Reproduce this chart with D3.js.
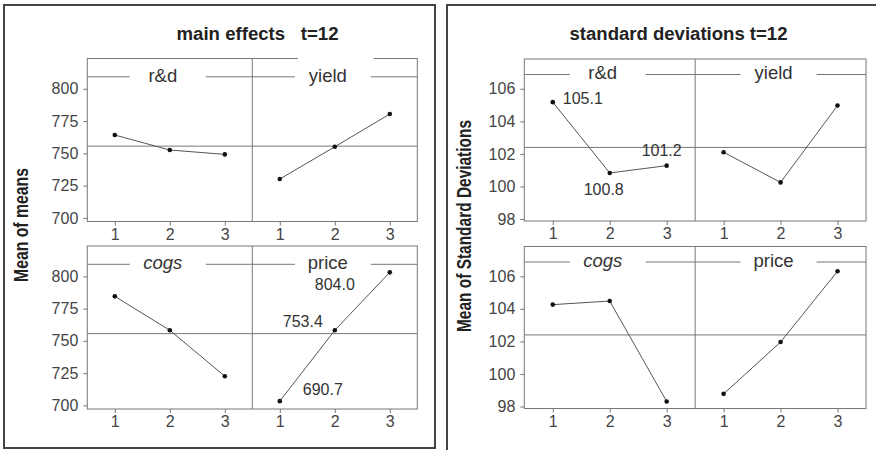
<!DOCTYPE html>
<html>
<head>
<meta charset="utf-8">
<script src="https://cdn.jsdelivr.net/npm/d3@7"></script>
<style>
    body { margin: 0; background: #fff; }
    svg { display: block; font-family: "Liberation Sans", Arial, sans-serif; }
</style>
</head>
<body>
<svg id="chart" width="876" height="450"></svg>
<script>
const levels = [1, 2, 3];
const factors = ["r&d", "yield", "cogs", "price"];

// main effects t=12 (mean of means)
const meanRd = [764.2, 752.6, 749.2];
const meanYield = [730.1, 755.1, 780.5];
const meanCogs = [784.5, 758.2, 722.6];
const meanPrice = [703.3, 758.2, 803.1];
const meanGrand = 755.6;
const meanTicks = [700, 725, 750, 775, 800];

// standard deviations t=12
const sdRd = [105.18, 100.83, 101.28];
const sdYield = [102.1, 100.25, 104.97];
const sdCogs = [104.26, 104.48, 98.31];
const sdPrice = [98.78, 101.96, 106.31];
const sdGrand = 102.4;
const sdTicks = [98, 100, 102, 104, 106];

// printed values next to some points
const priceLabels = ["690.7", "753.4", "804.0"];
const sdRdLabels = ["105.1", "100.8", "101.2"];

const svg = d3.select("#chart");

// outer frames
svg.append("rect")
    .attr("x", 4).attr("y", 5).attr("width", 431).attr("height", 443)
    .attr("fill", "none").attr("stroke", "#444").attr("stroke-width", 2);
svg.append("path")
    .attr("d", "M447,452V5H878")
    .attr("fill", "none").attr("stroke", "#444").attr("stroke-width", 2);

function drawBlock(o) {
    const g = svg.append("g");

    g.append("text")
        .attr("x", o.titleX).attr("y", 40)
        .attr("text-anchor", "middle")
        .attr("font-size", 18).attr("font-weight", "bold")
        .attr("fill", "#222")
        .style("white-space", "pre")
        .attr("textLength", o.titleLen).attr("lengthAdjust", "spacingAndGlyphs")
        .text(o.title);

    g.append("text")
        .attr("transform", `translate(${o.yTitleX},${o.yTitleY}) rotate(-90)`)
        .attr("text-anchor", "middle")
        .attr("dominant-baseline", "middle")
        .attr("font-size", 21).attr("font-weight", "bold")
        .attr("fill", "#222")
        .attr("textLength", o.yTitleLen).attr("lengthAdjust", "spacingAndGlyphs")
        .text(o.yTitle);

    const half = (o.x1 - o.x0) / 2;

    o.rows.forEach((row, r) => {
        const y = d3.scaleLinear().domain(o.domain).range([row[1], row[0]]);

        // reference line (grand mean)
        g.append("line")
            .attr("x1", o.x0).attr("x2", o.x1)
            .attr("y1", y(o.grand)).attr("y2", y(o.grand))
            .attr("stroke", "#777").attr("stroke-width", 1);

        const ya = g.append("g")
            .attr("transform", `translate(${o.x0},0)`)
            .call(d3.axisLeft(y).tickValues(o.ticks).tickSize(4).tickPadding(5).tickFormat(d3.format("d")));
        ya.select(".domain").remove();
        ya.selectAll("line").attr("stroke", "#777");
        ya.selectAll("text").attr("font-size", 16).attr("fill", "#444").attr("font-family", null);

        for (let c = 0; c < 2; c++) {
            const i = r * 2 + c;
            const px0 = o.x0 + c * half, px1 = px0 + half;
            const x = d3.scaleLinear().domain([0.5, 3.5]).range([px0, px1]);
            const vals = o.series[i];
            const mid = (px0 + px1) / 2;
            const sy = row[0] + o.stripOff;

            // strip line with label gap
            g.append("line")
                .attr("x1", px0).attr("x2", px1)
                .attr("y1", sy).attr("y2", sy)
                .attr("stroke", "#777");
            const gapTop = o.openTop === i ? row[0] - 2 : sy - 6;
            g.append("rect")
                .attr("x", mid - 40).attr("y", gapTop)
                .attr("width", 76).attr("height", sy + 6 - gapTop)
                .attr("fill", "#fff");
            g.append("text")
                .attr("x", mid - 7).attr("y", sy)
                .attr("text-anchor", "middle")
                .attr("dominant-baseline", "middle")
                .attr("font-size", 18.5)
                .attr("font-style", factors[i] === "cogs" ? "italic" : "normal")
                .attr("fill", "#333")
                .text(factors[i]);

            const xa = g.append("g")
                .attr("transform", `translate(0,${row[1]})`)
                .call(d3.axisBottom(x).tickValues(levels).tickSize(4).tickPadding(3).tickFormat(d3.format("d")));
            xa.select(".domain").remove();
            xa.selectAll("line").attr("stroke", "#777");
            xa.selectAll("text").attr("font-size", 16).attr("fill", "#444").attr("font-family", null);

            g.append("path")
                .datum(vals)
                .attr("fill", "none")
                .attr("stroke", "#555").attr("stroke-width", 1)
                .attr("d", d3.line().x((d, k) => x(levels[k])).y(d => y(d)));

            g.selectAll(null)
                .data(vals)
                .join("circle")
                .attr("cx", (d, k) => x(levels[k]))
                .attr("cy", d => y(d))
                .attr("r", 2.3)
                .attr("fill", "#111");

            const note = o.notes.find(n => n.panel === i);
            if (note) {
                g.selectAll(null)
                    .data(vals)
                    .join("text")
                    .attr("x", (d, k) => x(levels[k]) + note.dx[k])
                    .attr("y", (d, k) => y(d) + note.dy[k])
                    .attr("text-anchor", (d, k) => note.anchor[k])
                    .attr("dominant-baseline", "middle")
                    .attr("font-size", 16)
                    .attr("fill", "#333")
                    .text((d, k) => note.text[k]);
            }
        }

        // plot border and divider
        g.append("rect")
            .attr("x", o.x0).attr("y", row[0])
            .attr("width", o.x1 - o.x0).attr("height", row[1] - row[0])
            .attr("fill", "none").attr("stroke", "#777");
        if (o.openTop !== undefined && r === 0) {
            // label box breaks the top border above "yield"
            g.append("rect")
                .attr("x", o.x0 + half + half / 2 - 40 + 3).attr("y", row[0] - 1)
                .attr("width", 76).attr("height", 3)
                .attr("fill", "#fff");
        }
        g.append("line")
            .attr("x1", o.x0 + half).attr("x2", o.x0 + half)
            .attr("y1", row[0]).attr("y2", row[1])
            .attr("stroke", "#777");
    });
}

drawBlock({
    title: "main effects   t=12", titleX: 257.5, titleLen: 162,
    yTitle: "Mean of means", yTitleX: 22, yTitleY: 225, yTitleLen: 114,
    x0: 87.3, x1: 417.3,
    rows: [[58.5, 221.5], [246, 409]],
    domain: [697.2, 823.5],
    ticks: meanTicks,
    grand: meanGrand,
    series: [meanRd, meanYield, meanCogs, meanPrice],
    stripOff: 18.3,
    openTop: 1,
    notes: [{ panel: 3, text: priceLabels, dx: [43, -32, -55], dy: [-10, -7, 13], anchor: ["middle", "middle", "middle"] }]
});

drawBlock({
    title: "standard deviations t=12", titleX: 678.5, titleLen: 218,
    yTitle: "Mean of Standard Deviations", yTitleX: 465, yTitleY: 226, yTitleLen: 212,
    x0: 524.3, x1: 866,
    rows: [[59, 221], [246.5, 408.5]],
    domain: [97.88, 107.83],
    ticks: sdTicks,
    grand: sdGrand,
    series: [sdRd, sdYield, sdCogs, sdPrice],
    stripOff: 15.5,
    notes: [{ panel: 0, text: sdRdLabels, dx: [10, -6, 15], dy: [-2.7, 17.4, -14.3], anchor: ["start", "middle", "end"] }]
});
</script>
</body>
</html>
